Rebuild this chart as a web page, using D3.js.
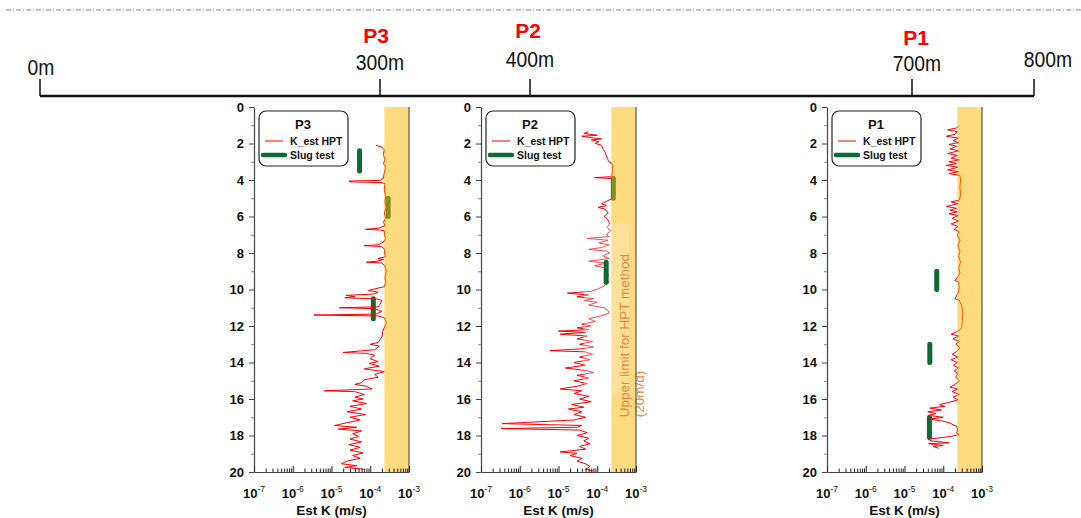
<!DOCTYPE html>
<html>
<head>
<meta charset="utf-8">
<script src="https://cdnjs.cloudflare.com/ajax/libs/d3/7.8.5/d3.min.js"></script>
<style>
  body { margin: 0; background: #fff; }
  svg { display: block; font-family: "Liberation Sans", Arial, sans-serif; }
</style>
</head>
<body>
<svg id="chart" width="1081" height="518"></svg>
<script>
// ---- transect distances and well locations ----
const distanceTicks = [0, 300, 400, 700, 800];
const distanceLabels = ["0m", "300m", "400m", "700m", "800m"];
const wellNames = ["P3", "P2", "P1"];
const wellDistance = [300, 400, 700];

// ---- profile axes ----
const kDomain = [1e-7, 1e-3];          // Est K (m/s)
const kDecades = [1e-7, 1e-6, 1e-5, 1e-4, 1e-3];
const kDecadeExp = ["-7", "-6", "-5", "-4", "-3"];
const depthDomain = [0, 20];
const depthLabelTicks = [0, 2, 4, 6, 8, 10, 12, 14, 16, 18, 20];
const depthMinorTicks = [1, 3, 5, 7, 9, 11, 13, 15, 17, 19];
const hptUpperLimit = 2.31e-4;         // 20 m/d
const legendItems = ["K_est HPT", "Slug test"];
const limitText = ["Upper limit for HPT method", "(20m/d)"];

// ---- HPT estimated K logs: [depth (m), K (m/s)] ----
const p3Hpt = [
  [2.10,1.4e-4],[2.20,2.0e-4],[2.35,2.3e-4],[2.6,2.2e-4],[2.9,2.4e-4],[3.1,2.2e-4],[3.3,2.5e-4],
  [3.6,2.3e-4],[3.9,2.2e-4],[4.02,1.8e-4],[4.06,2.8e-5],[4.10,3.0e-5],[4.14,1.9e-4],[4.2,2.4e-4],
  [4.5,2.3e-4],[4.9,2.5e-4],[5.2,2.4e-4],[5.5,2.6e-4],[5.8,2.3e-4],[6.1,2.5e-4],[6.3,2.2e-4],
  [6.5,2.4e-4],[6.65,1.6e-4],[6.70,7.5e-5],[6.74,1.8e-4],[6.8,2.4e-4],[7.0,2.3e-4],[7.2,2.5e-4],
  [7.4,2.2e-4],[7.55,1.6e-4],[7.60,7.0e-5],[7.64,1.9e-4],[7.8,2.4e-4],[8.0,2.3e-4],[8.2,2.5e-4],
  [8.3,1.6e-4],[8.35,2.2e-4],[8.45,1.5e-4],[8.50,8.0e-5],[8.55,2.0e-4],[8.7,2.4e-4],[9.0,2.6e-4],
  [9.3,2.4e-4],[9.6,2.5e-4],[9.85,2.3e-4],[9.95,1.4e-4],[10.05,9.0e-5],[10.15,1.6e-4],[10.25,1.2e-4],
  [10.32,2.4e-5],[10.40,4.0e-5],[10.45,2.2e-5],[10.52,1.5e-4],[10.6,2.0e-4],[10.8,1.8e-4],
  [10.95,1.6e-4],[11.00,1.6e-5],[11.05,1.3e-4],[11.2,2.0e-4],[11.35,1.4e-4],[11.40,3.5e-6],
  [11.45,1.6e-4],[11.55,2.3e-4],[11.8,2.6e-4],[12.0,2.4e-4],[12.3,2.1e-4],[12.6,2.0e-4],
  [12.9,1.6e-4],[13.0,1.0e-4],[13.1,1.7e-4],[13.3,1.3e-4],[13.45,2.0e-5],[13.5,8.0e-5],
  [13.6,1.3e-4],[13.8,1.0e-4],[13.95,1.6e-4],[14.05,9.5e-5],[14.2,1.7e-4],[14.35,7.0e-5],
  [14.5,2.3e-4],[14.65,1.3e-4],[14.8,1.6e-4],[14.95,7.0e-5],[15.1,6.0e-5],[15.2,4.0e-5],
  [15.3,8.0e-5],[15.45,1.1e-4],[15.55,6.5e-6],[15.6,4.0e-5],[15.75,7.0e-5],[15.9,4.0e-5],
  [16.0,6.5e-5],[16.1,3.5e-5],[16.25,8.0e-5],[16.4,3.0e-5],[16.55,6.0e-5],[16.7,2.5e-5],
  [16.85,7.5e-5],[17.0,3.0e-5],[17.15,5.5e-5],[17.3,2.5e-5],[17.45,1.2e-5],[17.55,4.5e-5],
  [17.65,1.5e-5],[17.75,6.0e-5],[17.9,3.5e-5],[18.05,5.0e-5],[18.2,3.0e-5],[18.35,6.0e-5],
  [18.5,2.8e-5],[18.65,5.5e-5],[18.8,3.0e-5],[18.95,6.5e-5],[19.1,3.5e-5],[19.25,5.5e-5],
  [19.4,2.5e-5],[19.55,1.8e-5],[19.65,4.5e-5],[19.75,2.2e-5],[19.85,7.0e-5]
];

const p2Hpt = [
  [1.35,6.0e-5],[1.45,4.5e-5],[1.55,1.0e-4],[1.6,4.0e-5],[1.7,8.0e-5],[1.75,1.3e-4],[1.8,7.0e-5],
  [1.9,1.1e-4],[2.0,9.0e-5],[2.1,1.3e-4],[2.3,1.4e-4],[2.5,1.6e-4],[2.8,1.8e-4],[3.0,2.0e-4],
  [3.1,2.4e-4],[3.4,2.5e-4],[3.7,2.4e-4],[3.82,2.2e-4],[3.87,8.5e-5],[3.92,2.3e-4],[4.2,2.5e-4],
  [4.6,2.4e-4],[5.0,2.5e-4],[5.15,1.8e-4],[5.3,1.3e-4],[5.4,1.7e-4],[5.5,1.05e-4],[5.6,1.6e-4],
  [5.8,1.9e-4],[6.0,1.5e-4],[6.2,1.9e-4],[6.4,2.1e-4],[6.6,1.8e-4],[6.8,2.2e-4],[7.0,1.7e-4],
  [7.1,2.0e-4],[7.2,5.5e-5],[7.3,1.9e-4],[7.45,1.1e-4],[7.55,2.0e-4],[7.7,1.3e-4],[7.8,6.0e-5],
  [7.9,1.8e-4],[8.0,2.1e-4],[8.15,1.4e-4],[8.3,2.0e-4],[8.45,6.0e-5],[8.55,1.7e-4],[8.7,8.5e-5],
  [8.85,1.9e-4],[9.0,1.6e-4],[9.2,2.0e-4],[9.4,1.7e-4],[9.6,2.0e-4],[9.8,1.5e-4],[9.95,1.1e-4],
  [10.1,7.0e-5],[10.2,1.7e-5],[10.3,6.0e-5],[10.4,3.0e-5],[10.5,8.0e-5],[10.6,4.5e-5],
  [10.7,1.0e-4],[10.85,6.0e-5],[11.0,1.5e-4],[11.15,1.9e-4],[11.3,2.0e-4],[11.45,1.2e-4],
  [11.6,6.0e-5],[11.75,9.0e-5],[11.9,4.0e-5],[12.0,7.0e-5],[12.1,3.0e-5],[12.2,6.0e-5],
  [12.28,1.0e-5],[12.35,5.0e-5],[12.45,1.1e-5],[12.55,5.5e-5],[12.7,3.0e-5],[12.85,7.5e-5],
  [13.0,3.5e-5],[13.15,8.0e-5],[13.25,4.0e-5],[13.35,6.0e-6],[13.42,5.0e-5],[13.55,7.5e-5],
  [13.7,3.5e-5],[13.85,6.5e-5],[14.0,2.5e-5],[14.15,5.0e-5],[14.3,1.5e-5],[14.45,5.5e-5],
  [14.55,8.0e-5],[14.7,3.0e-5],[14.85,6.0e-5],[15.0,2.5e-5],[15.15,5.5e-5],[15.3,3.0e-5],
  [15.45,1.1e-5],[15.55,4.0e-5],[15.7,2.5e-5],[15.85,6.0e-5],[16.0,3.5e-5],[16.15,7.0e-5],
  [16.3,2.2e-5],[16.45,4.5e-5],[16.55,1.8e-5],[16.7,4.0e-5],[16.85,2.5e-5],[17.0,5.0e-5],
  [17.15,2.5e-5],[17.35,3.5e-7],[17.45,4.0e-5],[17.55,3.0e-5],[17.62,3.3e-7],[17.7,3.5e-5],
  [17.85,5.5e-5],[18.0,3.0e-5],[18.15,6.0e-5],[18.3,4.5e-5],[18.45,6.5e-5],[18.6,3.5e-5],
  [18.75,5.0e-5],[18.9,1.1e-5],[18.98,3.0e-5],[19.1,2.0e-5],[19.25,4.0e-5],[19.4,3.0e-5],
  [19.55,5.0e-5],[19.7,6.5e-5],[19.85,5.0e-5],[19.95,8.0e-5]
];

const p1Hpt = [
  [1.05,2.5e-4],[1.15,2.2e-4],[1.25,1.3e-4],[1.35,2.3e-4],[1.5,2.0e-4],[1.6,1.2e-4],[1.7,2.4e-4],
  [1.85,1.8e-4],[1.95,2.5e-4],[2.05,1.4e-4],[2.15,2.2e-4],[2.3,1.5e-4],[2.4,2.5e-4],[2.55,1.3e-4],
  [2.65,2.3e-4],[2.8,1.6e-4],[2.9,2.6e-4],[3.0,1.4e-4],[3.1,2.2e-4],[3.2,1.2e-4],[3.3,2.4e-4],
  [3.45,1.3e-4],[3.55,2.5e-4],[3.65,1.4e-4],[3.75,2.7e-4],[4.0,2.8e-4],[4.4,2.7e-4],[4.8,2.8e-4],
  [5.1,2.6e-4],[5.2,1.6e-4],[5.3,2.4e-4],[5.45,1.2e-4],[5.55,2.2e-4],[5.65,1.5e-4],[5.75,2.3e-4],
  [5.85,1.4e-4],[5.95,2.4e-4],[6.1,1.7e-4],[6.25,2.5e-4],[6.4,1.6e-4],[6.55,2.4e-4],[6.7,1.9e-4],
  [6.85,2.6e-4],[7.0,2.3e-4],[7.3,2.7e-4],[7.6,2.4e-4],[7.9,2.7e-4],[8.2,2.5e-4],[8.5,2.8e-4],
  [8.8,2.5e-4],[9.1,2.7e-4],[9.3,2.4e-4],[9.5,2.0e-4],[9.6,2.5e-4],[9.9,2.6e-4],[10.2,2.4e-4],
  [10.5,2.0e-4],[10.6,2.6e-4],[10.9,3.0e-4],[11.3,3.2e-4],[11.7,3.1e-4],[12.1,3.0e-4],
  [12.3,2.3e-4],[12.45,1.6e-4],[12.55,2.5e-4],[12.7,1.8e-4],[12.85,2.6e-4],[13.0,2.1e-4],
  [13.2,2.7e-4],[13.4,2.2e-4],[13.55,1.7e-4],[13.7,2.4e-4],[13.85,1.6e-4],[14.0,2.3e-4],
  [14.15,1.8e-4],[14.3,2.5e-4],[14.45,1.9e-4],[14.6,2.4e-4],[14.8,2.1e-4],[15.0,2.6e-4],
  [15.2,2.0e-4],[15.35,1.5e-4],[15.45,2.3e-4],[15.6,1.7e-4],[15.75,2.6e-4],[15.9,1.8e-4],
  [16.05,2.4e-4],[16.2,1.3e-4],[16.3,8.0e-5],[16.4,1.1e-4],[16.5,4.5e-5],[16.6,9.0e-5],
  [16.7,4.0e-5],[16.8,6.5e-5],[16.9,4.2e-5],[17.0,1.0e-4],[17.1,4.5e-5],[17.2,9.0e-5],
  [17.3,1.4e-4],[17.5,2.2e-4],[17.7,2.4e-4],[17.85,2.2e-4],[17.95,2.5e-4],[18.05,1.6e-4],
  [18.15,6.5e-5],[18.2,4.0e-5],[18.3,5.0e-5],[18.4,1.4e-4],[18.45,4.2e-5],[18.55,1.0e-4],
  [18.6,5.5e-5],[18.7,7.5e-5]
];

// ---- slug tests: [top depth, bottom depth, K (m/s)] ----
const p3Slug = [[2.4, 3.5, 5.3e-5], [5.0, 6.0, 2.9e-4], [10.5, 11.6, 1.2e-4]];
const p2Slug = [[3.9, 5.0, 2.6e-4], [8.5, 9.6, 1.7e-4]];
const p1Slug = [[9.0, 10.0, 6.8e-5], [13.0, 14.0, 4.5e-5], [17.0, 18.1, 4.4e-5]];

// ---- layout ----
const svg = d3.select("#chart");
const W = 1081;
const axisY = 96;
const panelW = 155, panelH = 365, panelTop = 107;
const panelLeft = { P3: 254, P2: 481, P1: 827 };
const colors = {
  hpt: "#ff0000",
  slug: "#0d6a35",
  band: "#ffb700",
  axis: "#444",
  well: "#ff0000",
  note: "#ec8442"
};

// dashed rule along the top
svg.append("line")
  .attr("x1", 6).attr("x2", W).attr("y1", 10).attr("y2", 10)
  .attr("stroke", "#8a8a8a").attr("stroke-width", 1)
  .attr("stroke-dasharray", "5 2 1 2");

// ---- transect distance axis ----
const xDist = d3.scaleLinear().domain(distanceTicks).range([40, 380, 530, 912, 1034]);
const distLabelDx = [1, 0, 0, 5, 14];
const distLabelY = [75, 70, 67, 71, 67];

svg.append("line")
  .attr("x1", xDist(0)).attr("x2", xDist(800))
  .attr("y1", axisY).attr("y2", axisY)
  .attr("stroke", "#111").attr("stroke-width", 2.5);

svg.selectAll(".dtick").data(distanceTicks).join("line")
  .attr("class", "dtick")
  .attr("x1", d => xDist(d)).attr("x2", d => xDist(d))
  .attr("y1", 79).attr("y2", axisY)
  .attr("stroke", "#111").attr("stroke-width", 1.5);

svg.selectAll(".dlabel").data(distanceTicks).join("text")
  .attr("class", "dlabel")
  .attr("transform", (d, i) => `translate(${xDist(d) + distLabelDx[i]},${distLabelY[i]}) scale(0.92,1.08)`)
  .attr("text-anchor", "middle")
  .attr("font-size", 21)
  .attr("fill", "#111")
  .text((d, i) => distanceLabels[i]);

const wellLabelDx = [-4, -2, 4];
const wellLabelY = [43, 38, 45];
svg.selectAll(".wlabel").data(wellDistance).join("text")
  .attr("class", "wlabel")
  .attr("x", (d, i) => xDist(d) + wellLabelDx[i])
  .attr("y", (d, i) => wellLabelY[i])
  .attr("text-anchor", "middle")
  .attr("font-size", 21)
  .attr("font-weight", "bold")
  .attr("fill", colors.well)
  .text((d, i) => wellNames[i]);

// ---- one K profile panel ----
function drawProfile(name, hpt, slugs, withNote) {
  const g = svg.append("g")
    .attr("transform", `translate(${panelLeft[name]},${panelTop})`);
  const x = d3.scaleLog().domain(kDomain).range([0, panelW]);
  const y = d3.scaleLinear().domain(depthDomain).range([0, panelH]);

  const drawSlugs = () => g.selectAll(".slug").data(slugs).join("line")
    .attr("class", "slug")
    .attr("x1", d => x(d[2])).attr("x2", d => x(d[2]))
    .attr("y1", d => y(d[0])).attr("y2", d => y(d[1]))
    .attr("stroke", colors.slug).attr("stroke-width", 5)
    .attr("stroke-linecap", "round");

  // slug test intervals sit beneath the HPT trace
  if (!withNote) drawSlugs();

  // HPT estimated K
  const line = d3.line().x(d => x(d[1])).y(d => y(d[0]));
  g.append("path").datum(hpt)
    .attr("d", line)
    .attr("fill", "none")
    .attr("stroke", colors.hpt)
    .attr("stroke-width", 1)
    .attr("stroke-linejoin", "round");

  if (withNote) {
    // faint backdrop behind the limit note
    g.append("rect")
      .attr("x", x(4.4e-5)).attr("y", y(6.4))
      .attr("width", x(6.5e-4) - x(4.4e-5))
      .attr("height", y(15.8) - y(6.4))
      .attr("fill", "#fff").attr("fill-opacity", 0.3);
    drawSlugs();
  }

  // HPT upper measurable limit band
  g.append("rect")
    .attr("x", x(hptUpperLimit)).attr("y", 0)
    .attr("width", x(kDomain[1]) - x(hptUpperLimit))
    .attr("height", panelH)
    .attr("fill", colors.band).attr("fill-opacity", 0.5);

  if (withNote) {
    g.append("rect")
      .attr("x", x(hptUpperLimit)).attr("y", y(6.4))
      .attr("width", x(6.5e-4) - x(hptUpperLimit))
      .attr("height", y(15.8) - y(6.4))
      .attr("fill", "#fff").attr("fill-opacity", 0.2);
    const note = g.append("text")
      .attr("transform", `translate(${x(6.6e-4)},${y(17.0)}) rotate(-90)`)
      .attr("font-size", 13.5)
      .attr("fill", colors.note);
    note.selectAll("tspan").data(limitText).join("tspan")
      .attr("x", 0)
      .attr("dy", (d, i) => i === 0 ? 0 : 15)
      .text(d => d);
  }

  // depth axis
  const yAxis = d3.axisLeft(y).tickValues(depthLabelTicks).tickSize(5).tickSizeOuter(0).tickPadding(5);
  const ya = g.append("g").call(yAxis);
  ya.select(".domain").attr("stroke", colors.axis).attr("stroke-width", 1.2);
  ya.selectAll(".tick line").attr("stroke", colors.axis);
  ya.selectAll(".tick text")
    .attr("font-family", "Liberation Sans, Arial, sans-serif")
    .attr("font-size", 13).attr("font-weight", "bold").attr("fill", "#111");
  const yMinor = d3.axisLeft(y).tickValues(depthMinorTicks).tickSize(3).tickSizeOuter(0).tickFormat("");
  const ym = g.append("g").call(yMinor);
  ym.select(".domain").remove();
  ym.selectAll(".tick line").attr("stroke", "#888");

  // right frame
  g.append("line")
    .attr("x1", x(kDomain[1])).attr("x2", x(kDomain[1]))
    .attr("y1", 0).attr("y2", panelH)
    .attr("stroke", "#555").attr("stroke-width", 1.2);

  // K axis with inward log ticks
  const minor = [];
  kDecades.slice(0, -1).forEach(dv => { for (let m = 2; m <= 9; m++) minor.push(dv * m); });
  const xAxis = d3.axisBottom(x).tickValues(kDecades).tickSize(-6).tickSizeOuter(0).tickFormat("");
  const xa = g.append("g").attr("transform", `translate(0,${panelH})`).call(xAxis);
  xa.select(".domain").attr("stroke", colors.axis).attr("stroke-width", 1.2);
  xa.selectAll(".tick line").attr("stroke", "#222");
  const xMinor = d3.axisBottom(x).tickValues(minor).tickSize(-3.5).tickSizeOuter(0).tickFormat("");
  const xm = g.append("g").attr("transform", `translate(0,${panelH})`).call(xMinor);
  xm.select(".domain").remove();
  xm.selectAll(".tick line").attr("stroke", "#222");

  const lab = g.selectAll(".klabel").data(kDecades).join("text")
    .attr("class", "klabel")
    .attr("x", d => x(d))
    .attr("y", panelH + 26)
    .attr("text-anchor", "middle")
    .attr("font-size", 13)
    .attr("font-weight", "bold")
    .attr("fill", "#111");
  lab.append("tspan").text("10");
  lab.append("tspan").attr("dy", -6).attr("font-size", 8.5).attr("font-weight", "normal").text((d, i) => kDecadeExp[i]);

  g.append("text")
    .attr("x", panelW / 2).attr("y", panelH + 43)
    .attr("text-anchor", "middle")
    .attr("font-size", 13.5).attr("font-weight", "bold")
    .attr("fill", "#111")
    .text("Est K (m/s)");

  // legend
  const lg = g.append("g").attr("transform", "translate(5,4)");
  lg.append("rect")
    .attr("width", 89).attr("height", 55).attr("rx", 7)
    .attr("fill", "#fff").attr("stroke", "#222").attr("stroke-width", 1.2);
  lg.append("text")
    .attr("x", 44).attr("y", 18)
    .attr("text-anchor", "middle")
    .attr("font-size", 13).attr("font-weight", "bold")
    .attr("fill", "#111").text(name);
  lg.append("line").attr("x1", 6).attr("x2", 24).attr("y1", 30).attr("y2", 30)
    .attr("stroke", colors.hpt).attr("stroke-width", 1);
  lg.append("line").attr("x1", 4).attr("x2", 26).attr("y1", 44).attr("y2", 44)
    .attr("stroke", colors.slug).attr("stroke-width", 4.5).attr("stroke-linecap", "round");
  lg.selectAll(".li").data(legendItems).join("text")
    .attr("class", "li")
    .attr("x", 31).attr("y", (d, i) => 34 + i * 14)
    .attr("font-size", 10.5).attr("font-weight", "bold")
    .attr("fill", "#111").text(d => d);
}

drawProfile("P3", p3Hpt, p3Slug, false);
drawProfile("P2", p2Hpt, p2Slug, true);
drawProfile("P1", p1Hpt, p1Slug, false);
</script>
</body>
</html>
